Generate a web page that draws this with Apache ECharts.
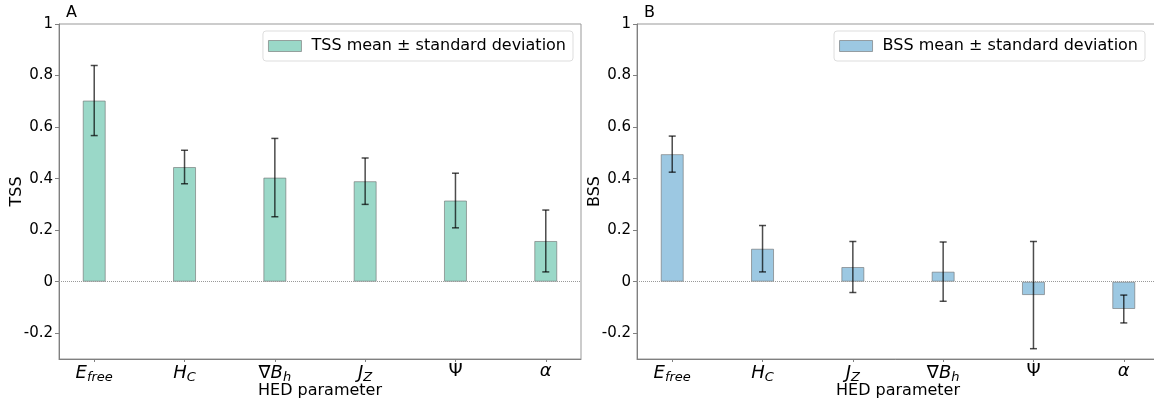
<!DOCTYPE html>
<html>
<head>
<meta charset="utf-8">
<script src="https://cdn.jsdelivr.net/npm/echarts@6/dist/echarts.min.js"></script>
<style>
  html, body { margin: 0; padding: 0; background: #fff; }
  #chart { width: 1154px; height: 405px; }
</style>
</head>
<body>
<div id="chart"></div>
<script>
// panel A order and panel B order (rich-text label keys)
const tssLabels = ['{i|E}{s|free}', '{i|H}{s|C}', '{u|∇}{i|B}{s|h}', '{i|J}{s|Z}', '{u|Ψ}', '{i|α}'];
const bssLabels = ['{i|E}{s|free}', '{i|H}{s|C}', '{i|J}{s|Z}', '{u|∇}{i|B}{s|h}', '{u|Ψ}', '{i|α}'];
const tssMean = [0.703, 0.445, 0.404, 0.390, 0.315, 0.158];
const tssStd = [0.136, 0.065, 0.152, 0.090, 0.106, 0.120];
const bssMean = [0.495, 0.128, 0.057, 0.039, -0.052, -0.106];
const bssStd = [0.070, 0.090, 0.099, 0.115, 0.208, 0.054];
const yTicks = [-0.2, 0, 0.2, 0.4, 0.6, 0.8, 1];

const FONT = 'DejaVu Sans';
const tssColor = '#9ad8c8';
const bssColor = '#9cc8e2';
const edgeColor = 'rgba(110,110,110,0.6)';

const chart = echarts.init(document.getElementById('chart'));

const richLabel = {
  i: { fontFamily: FONT, fontStyle: 'italic', fontSize: 18, color: '#000' },
  u: { fontFamily: FONT, fontSize: 18, color: '#000' },
  s: { fontFamily: FONT, fontStyle: 'italic', fontSize: 13, color: '#000', padding: [9, 0, 0, 0] }
};

function xAxisFor(idx, labels) {
  return {
    gridIndex: idx,
    type: 'value',
    min: -0.39,
    max: 5.39,
    name: 'HED parameter',
    nameLocation: 'middle',
    nameGap: 24,
    nameMoveOverlap: false,
    nameTextStyle: { fontFamily: FONT, fontSize: 16, color: '#000' },
    axisLine: { show: true, onZero: false, lineStyle: { color: '#808080' } },
    axisTick: { show: true, length: 3, customValues: labels.map((l, i) => i), lineStyle: { color: '#808080' } },
    axisLabel: {
      margin: 3,
      customValues: labels.map((l, i) => i),
      formatter: v => labels[Math.round(v)] || '',
      rich: richLabel
    },
    splitLine: { show: false }
  };
}

function yAxisFor(idx, name) {
  return {
    gridIndex: idx,
    type: 'value',
    min: -0.3,
    max: 1,
    name: name,
    nameLocation: 'middle',
    nameGap: 34,
    nameMoveOverlap: false,
    nameTextStyle: { fontFamily: FONT, fontSize: 16, color: '#000' },
    axisLine: { show: true, onZero: false, lineStyle: { color: '#808080' } },
    axisTick: { show: true, length: 4, customValues: yTicks, lineStyle: { color: '#808080' } },
    axisLabel: {
      customValues: yTicks,
      margin: 6,
      fontFamily: FONT,
      fontSize: 15,
      color: '#000',
      formatter: v => String(Math.round(v * 10) / 10)
    },
    splitLine: { show: false }
  };
}

function barSeries(idx, name, means, color) {
  return {
    name: name,
    type: 'bar',
    xAxisIndex: idx,
    yAxisIndex: idx,
    barWidth: 23,
    data: means.map((m, i) => [i, m]),
    itemStyle: { color: color, borderColor: edgeColor, borderWidth: 1 },
    markLine: {
      silent: true,
      symbol: 'none',
      label: { show: false },
      lineStyle: { type: 'dotted', color: '#999', width: 1 },
      data: [{ yAxis: 0 }]
    },
    z: 2
  };
}

function errSeries(idx, means, stds) {
  return {
    type: 'custom',
    xAxisIndex: idx,
    yAxisIndex: idx,
    data: means.map((m, i) => [i, m - stds[i], m + stds[i]]),
    renderItem: (params, api) => {
      const lo = api.coord([api.value(0), api.value(1)]);
      const hi = api.coord([api.value(0), api.value(2)]);
      const st = { stroke: 'rgba(0,0,0,0.7)', lineWidth: 1.5 };
      return {
        type: 'group',
        children: [
          { type: 'line', shape: { x1: lo[0], y1: lo[1], x2: hi[0], y2: hi[1] }, style: st },
          { type: 'line', shape: { x1: lo[0] - 3.5, y1: lo[1], x2: lo[0] + 3.5, y2: lo[1] }, style: st },
          { type: 'line', shape: { x1: hi[0] - 3.5, y1: hi[1], x2: hi[0] + 3.5, y2: hi[1] }, style: st }
        ]
      };
    },
    z: 5
  };
}

function legendFor(name, color, right) {
  return {
    right: right,
    top: 31,
    orient: 'vertical',
    backgroundColor: '#fff',
    borderColor: '#ddd',
    borderWidth: 1,
    borderRadius: 3,
    padding: [7, 7, 7, 5],
    itemWidth: 33,
    itemHeight: 11,
    data: [{ name: name, icon: 'rect', itemStyle: { color: color, borderColor: edgeColor, borderWidth: 1 } }],
    textStyle: { fontFamily: FONT, fontSize: 16, color: '#000', padding: [0, 0, 0, 5] },
    selectedMode: false
  };
}

const tssName = 'TSS mean ± standard deviation';
const bssName = 'BSS mean ± standard deviation';

chart.setOption({
  animation: false,
  title: [
    { text: 'A', left: 61, top: 0, textStyle: { fontFamily: FONT, fontSize: 16, fontWeight: 'normal', color: '#000' } },
    { text: 'B', left: 639, top: 0, textStyle: { fontFamily: FONT, fontSize: 16, fontWeight: 'normal', color: '#000' } }
  ],
  grid: [
    { left: 59, top: 24, width: 522, height: 335, outerBoundsMode: 'none', show: true, borderColor: '#999', borderWidth: 1, backgroundColor: 'transparent' },
    { left: 637, top: 24, width: 522, height: 335, outerBoundsMode: 'none', show: true, borderColor: '#999', borderWidth: 1, backgroundColor: 'transparent' }
  ],
  xAxis: [xAxisFor(0, tssLabels), xAxisFor(1, bssLabels)],
  yAxis: [yAxisFor(0, 'TSS'), yAxisFor(1, 'BSS')],
  legend: [legendFor(tssName, tssColor, 581), legendFor(bssName, bssColor, 9)],
  series: [
    barSeries(0, tssName, tssMean, tssColor),
    errSeries(0, tssMean, tssStd),
    barSeries(1, bssName, bssMean, bssColor),
    errSeries(1, bssMean, bssStd)
  ]
});
</script>
</body>
</html>
